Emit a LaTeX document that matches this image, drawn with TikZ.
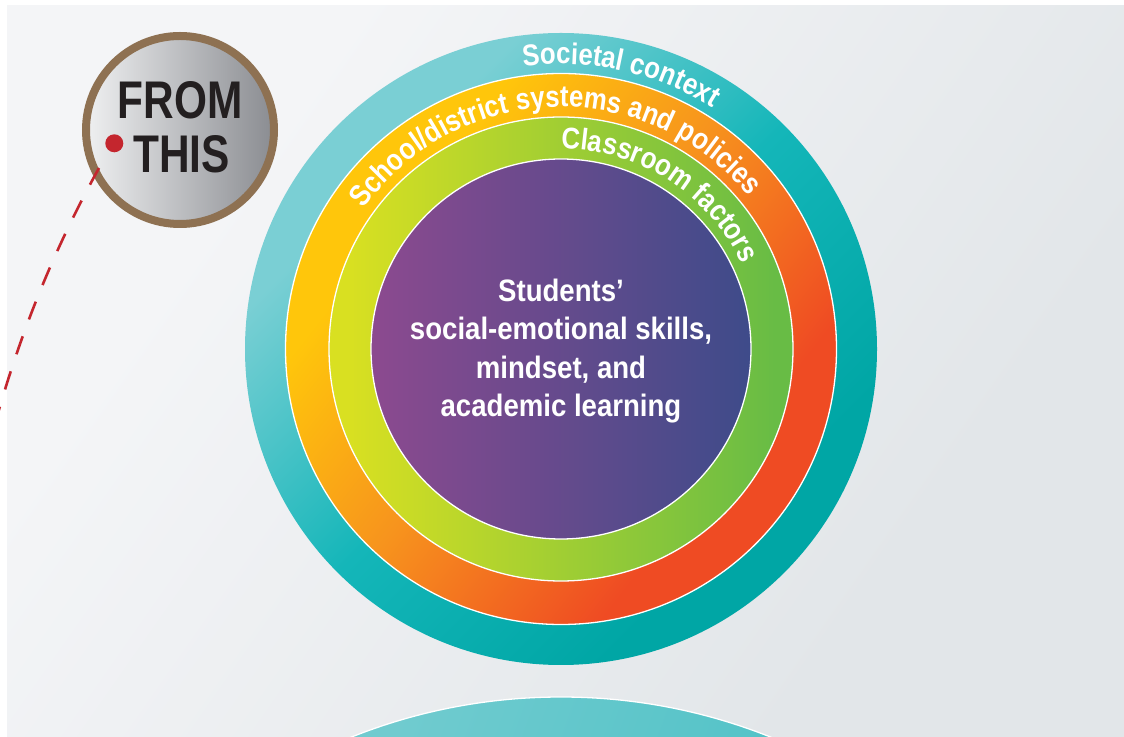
\documentclass[tikz,border=0pt]{standalone}
\usepackage{fontspec}
\setmainfont{Liberation Sans}
\newfontfamily\condfont[FakeStretch=0.80]{Liberation Sans}
\newfontfamily\ringfont[FakeStretch=0.86]{Liberation Sans}
\newfontfamily\midfont[FakeStretch=0.89]{Liberation Sans}
\usetikzlibrary{decorations.text}
\definecolor{bgA}{HTML}{F4F5F7}
\definecolor{bgB}{HTML}{E2E6E9}
\definecolor{tealA}{HTML}{7ACFD4}
\definecolor{tealB}{HTML}{14B6B9}
\definecolor{tealC}{HTML}{00A6A5}
\definecolor{orA}{HTML}{FFC60B}
\definecolor{orB}{HTML}{F7941D}
\definecolor{orC}{HTML}{EF4B23}
\definecolor{grA}{HTML}{D9E021}
\definecolor{grC}{HTML}{68BC45}
\definecolor{puA}{HTML}{8C4A8F}
\definecolor{puC}{HTML}{3E4B8A}
\definecolor{btA}{HTML}{70CBCF}
\definecolor{btC}{HTML}{3BBCC1}
\definecolor{brownring}{HTML}{8E7152}
\definecolor{silA}{HTML}{EFF0F1}
\definecolor{silC}{HTML}{8A8C91}
\definecolor{inkk}{HTML}{231F20}
\definecolor{redd}{HTML}{C4262E}
\pgfdeclarehorizontalshading{bgsh}{100bp}{color(0bp)=(bgA); color(30bp)=(bgA); color(70bp)=(bgB); color(100bp)=(bgB)}
\pgfdeclarehorizontalshading{tealsh}{100bp}{color(0bp)=(tealA); color(30bp)=(tealA); color(50bp)=(tealB); color(70bp)=(tealC); color(100bp)=(tealC)}
\pgfdeclarehorizontalshading{orsh}{100bp}{color(0bp)=(orA); color(31bp)=(orA); color(48bp)=(orB); color(68bp)=(orC); color(100bp)=(orC)}
\pgfdeclarehorizontalshading{grsh}{100bp}{color(0bp)=(grA); color(27bp)=(grA); color(73bp)=(grC); color(100bp)=(grC)}
\pgfdeclarehorizontalshading{push}{100bp}{color(0bp)=(puA); color(25bp)=(puA); color(75bp)=(puC); color(100bp)=(puC)}
\pgfdeclarehorizontalshading{btsh}{100bp}{color(0bp)=(btA); color(35bp)=(btA); color(65bp)=(btC); color(100bp)=(btC)}
\pgfdeclarehorizontalshading{silsh}{100bp}{color(0bp)=(silA); color(25bp)=(silA); color(75bp)=(silC); color(100bp)=(silC)}
\tikzset{
  ring/.style={circle, inner sep=0pt, outer sep=0pt},
  sep/.style={draw=white, line width=1.3pt},
  ringtext/.style={decorate, decoration={text along path, text align=center,
     text={|\ringfont\bfseries\fontsize{30}{32}\selectfont\color{white}|#1}}},
  centertext/.style={align=center, text=white, inner sep=0pt,
     font=\midfont\bfseries\fontsize{31}{38.3}\selectfont},
  badgetext/.style={text=inkk, inner sep=0pt, anchor=base,
     font=\condfont\bfseries\fontsize{53}{53}\selectfont},
  dashline/.style={draw=redd, line width=2.6pt, dash pattern=on 19pt off 18pt}
}
\begin{document}
\begin{tikzpicture}[x=1pt, y=1pt]
\useasboundingbox (0,0) rectangle (1124,736);
\clip (0,0) rectangle (1124,736);
\fill[white] (0,0) rectangle (1124,736);
\shade[shading=bgsh, shading angle=-35] (7,0) rectangle (1124,730);

\coordinate (C) at (561,387);
\node[ring, minimum size=632pt, shading=tealsh, shading angle=-45] (soc) at (C) {};
\node[ring, sep, minimum size=551pt, shading=orsh, shading angle=-38] (sch) at (C) {};
\node[ring, sep, minimum size=464pt, shading=grsh] (cls) at (C) {};
\node[ring, sep, minimum size=380pt, shading=push] (stu) at (C) {};

\path[ringtext={Societal context}] (C) ++(152.7:285) arc[start angle=152.7, end angle=2.7, radius=285];
\path[ringtext={School/district systems and policies}] (C) ++(171.8:242) arc[start angle=171.8, end angle=11.8, radius=242];
\path[ringtext={Classroom factors}] (C) ++(137.5:200) arc[start angle=137.5, end angle=-22.5, radius=200];

\node[centertext] (skills) at (561,385) {Students’\\social-emotional skills,\\mindset, and\\academic learning};

\node[ring, sep, minimum size=1132pt, shading=btsh, shading angle=-20] (next) at (561,-527) {};

\node[ring, minimum size=188pt, shading=silsh, draw=brownring, line width=8pt] (badge) at (180,606) {};
\node[badgetext] (from) at (180,617) {FROM};
\node[badgetext] (this) at (181.5,563.3) {THIS};
\node[ring, fill=redd, minimum size=18pt] (dot) at (114.3,592.7) {};

\coordinate (ls) at (99,568);
\coordinate (le) at (-4,316);
\draw[dashline] (ls) .. controls (52,483) and (20,401) .. (le);
\end{tikzpicture}
\end{document}
